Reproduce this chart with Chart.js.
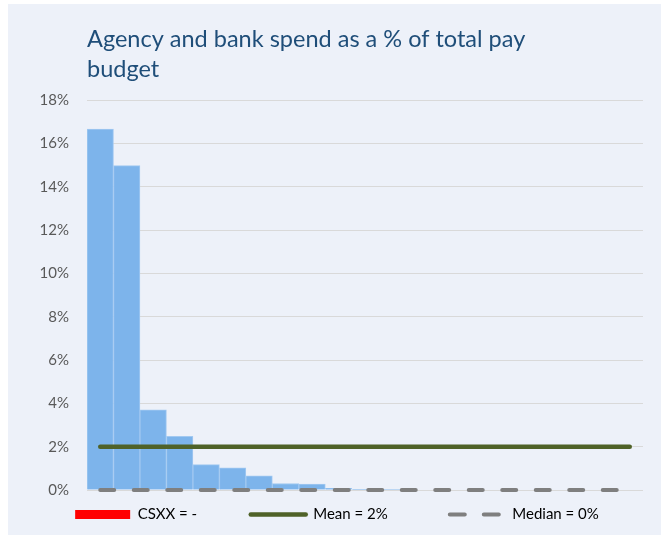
<!DOCTYPE html>
<html>
<head>
<meta charset="utf-8">
<script src="https://cdn.jsdelivr.net/npm/chart.js@4.4.1/dist/chart.umd.min.js"></script>
<style>
  html, body { margin: 0; background: #fff; }
  #panel { position: absolute; left: 8px; top: 4px; width: 653px; height: 531px; background: #edf1f9; }
</style>
</head>
<body>
<div id="panel"><canvas id="spendChart"></canvas></div>
<script>
// organisations, sorted from highest to lowest spend
const trusts = ['1', '2', '3', '4', '5', '6', '7', '8', '9', '10', '11',
                '12', '13', '14', '15', '16', '17', '18', '19', '20', '21'];
// agency + bank spend as % of total pay budget
const spendPct = [16.66, 14.97, 3.70, 2.48, 1.17, 1.02, 0.65, 0.30, 0.27, 0.08, 0.03,
                  0.02, 0, 0, 0, 0, 0, 0, 0, 0, 0];
// highlighted organisation - no figure submitted
const csxxPct = [];
const csxxLabel = '-';
const meanPct = 2;
const medianPct = 0;
// y axis
const yMax = 18;
const yStep = 2;

const textGrey = '#595959';
// spacing between legend entries
const gap1 = '\u2003\u2003\u2003\u2009\u200a';
const gap2 = '\u2003\u2003\u2003\u2002\u2009\u2009';

Chart.defaults.font.family = 'Lato, "Open Sans", sans-serif';
Chart.defaults.color = textGrey;

const ctx = document.getElementById('spendChart').getContext('2d');
const chart = new Chart(ctx, {
    type: 'bar',
    data: {
        labels: trusts,
        datasets: [
            {
                label: 'Median',
                type: 'line',
                data: trusts.map(() => medianPct),
                borderColor: '#7f7f7f',
                borderWidth: 4,
                borderDash: [14, 19.5],
                borderCapStyle: 'round',
                pointRadius: 0,
                clip: false,
                order: 0
            },
            {
                label: 'Mean',
                type: 'line',
                data: trusts.map(() => meanPct),
                borderColor: '#4f6228',
                borderWidth: 4.5,
                borderCapStyle: 'round',
                pointRadius: 0,
                order: 1
            },
            {
                label: 'CSXX',
                data: csxxPct,
                backgroundColor: '#ff0000',
                categoryPercentage: 1,
                barPercentage: 1,
                order: 2
            },
            {
                label: 'Spend',
                data: spendPct,
                backgroundColor: '#7db4eb',
                borderColor: '#a2c9f1',
                borderWidth: 1,
                categoryPercentage: 1,
                barPercentage: 1,
                order: 3
            }
        ]
    },
    options: {
        responsive: true,
        maintainAspectRatio: false,
        animation: false,
        layout: {
            padding: { top: 10, left: 23, right: 18, bottom: 3 }
        },
        scales: {
            x: {
                display: false,
                stacked: true
            },
            y: {
                min: 0,
                max: yMax,
                afterFit: (scale) => { scale.width = 56; },
                border: { display: false },
                grid: { color: '#d9d9d9', drawTicks: false },
                ticks: {
                    stepSize: yStep,
                    padding: 18,
                    font: { size: 15 },
                    callback: (v) => v + '%'
                }
            }
        },
        plugins: {
            title: {
                display: true,
                text: ['Agency and bank spend as a % of total pay', 'budget'],
                align: 'start',
                fullSize: false,
                color: '#1f4e79',
                font: { size: 23.5, weight: 'normal', lineHeight: 30 / 23.5 },
                padding: { top: 10, bottom: 16 }
            },
            legend: {
                position: 'bottom',
                labels: {
                    usePointStyle: true,
                    pointStyleWidth: 55,
                    boxHeight: 9,
                    padding: 17,
                    font: { size: 15 },
                    generateLabels: () => [
                        {
                            text: 'CSXX = ' + csxxLabel + gap1,
                            pointStyle: 'rect',
                            fillStyle: '#ff0000',
                            strokeStyle: '#ff0000',
                            lineWidth: 0,
                            hidden: false,
                            datasetIndex: 2
                        },
                        {
                            text: 'Mean = ' + meanPct + '%' + gap2,
                            pointStyle: 'line',
                            fillStyle: '#4f6228',
                            strokeStyle: '#4f6228',
                            lineWidth: 4.5,
                            lineCap: 'round',
                            lineDash: [],
                            hidden: false,
                            datasetIndex: 1
                        },
                        {
                            text: 'Median = ' + medianPct + '%',
                            pointStyle: 'line',
                            fillStyle: '#7f7f7f',
                            strokeStyle: '#7f7f7f',
                            lineWidth: 4,
                            lineCap: 'round',
                            lineDash: [15, 19],
                            hidden: false,
                            datasetIndex: 0
                        }
                    ]
                }
            },
            tooltip: { enabled: false }
        }
    }
});
</script>
</body>
</html>
